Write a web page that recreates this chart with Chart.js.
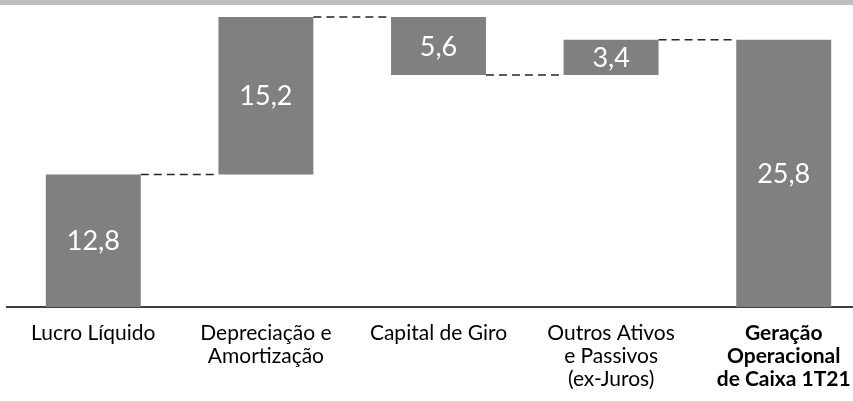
<!DOCTYPE html>
<html>
<head>
<meta charset="utf-8">
<script src="https://cdn.jsdelivr.net/npm/chart.js@4"></script>
<style>
  html, body { margin: 0; padding: 0; background: #fff; overflow: hidden; }
  #wrap { position: relative; width: 870px; height: 401px; }
</style>
</head>
<body>
<div id="wrap"><canvas id="c"></canvas></div>
<script>
// waterfall: steps, last one is the total
const categories = [
    ["Lucro Líquido"],
    ["Depreciação e", "Amortização"],
    ["Capital de Giro"],
    ["Outros Ativos", "e Passivos", "(ex-Juros)"],
    ["Geração", "Operacional", "de Caixa 1T21"],
];
const steps = [12.8, 15.2, -5.6, 3.4];
const total = 25.8;

// floating ranges built from the steps
const ranges = [];
let run = 0;
steps.forEach((v) => {
    ranges.push([run, run + v]);
    run += v;
});
ranges.push([0, total]);
const shown = [...steps.map(Math.abs), total];

const FONT = "Lato, 'Open Sans', sans-serif";

const topBand = {
    id: "topBand",
    beforeDraw(chart) {
        const ctx = chart.ctx;
        ctx.save();
        ctx.fillStyle = "#bfbfbf";
        ctx.fillRect(0, 0, chart.width, 5);
        ctx.restore();
    },
};

const waterfallExtras = {
    id: "waterfallExtras",
    afterDatasetsDraw(chart) {
        const ctx = chart.ctx;
        const bars = chart.getDatasetMeta(0).data;
        const y = chart.scales.y;
        ctx.save();
        // dashed connectors
        ctx.strokeStyle = "#262626";
        ctx.lineWidth = 1.4;
        ctx.setLineDash([8, 5]);
        for (let i = 0; i < bars.length - 1; i++) {
            const lvl = y.getPixelForValue(ranges[i][1]);
            ctx.beginPath();
            ctx.moveTo(bars[i].x + bars[i].width / 2, lvl);
            ctx.lineTo(bars[i + 1].x - bars[i + 1].width / 2, lvl);
            ctx.stroke();
        }
        ctx.setLineDash([]);
        // values inside bars
        ctx.fillStyle = "#ffffff";
        ctx.font = `27px ${FONT}`;
        ctx.textAlign = "center";
        ctx.textBaseline = "middle";
        bars.forEach((b, i) => {
            ctx.fillText(shown[i].toFixed(1).replace(".", ","), b.x, (b.y + b.base) / 2 + 1);
        });
        ctx.restore();
    },
};

new Chart(document.getElementById("c"), {
    type: "bar",
    data: {
        labels: categories,
        datasets: [{
            data: ranges,
            backgroundColor: "#808080",
            borderWidth: 0,
            barPercentage: 0.55,
            categoryPercentage: 1,
        }],
    },
    options: {
        responsive: true,
        maintainAspectRatio: false,
        animation: false,
        layout: { padding: { top: 17, left: 7, right: 0, bottom: 0 } },
        plugins: { legend: { display: false }, tooltip: { enabled: false } },
        scales: {
            x: {
                grid: { display: false, drawTicks: false },
                border: { display: true, color: "#404040", width: 2 },
                ticks: {
                    color: "#000",
                    padding: 15,
                    maxRotation: 0,
                    autoSkip: false,
                    font: (c) => ({
                        family: FONT,
                        size: 21,
                        lineHeight: "23px",
                        weight: c.index === 4 ? "bold" : "normal",
                    }),
                },
                afterFit(scale) { scale.height = 94; },
            },
            y: {
                display: false,
                min: 0,
                max: 28,
            },
        },
    },
    plugins: [topBand, waterfallExtras],
});
</script>
</body>
</html>
